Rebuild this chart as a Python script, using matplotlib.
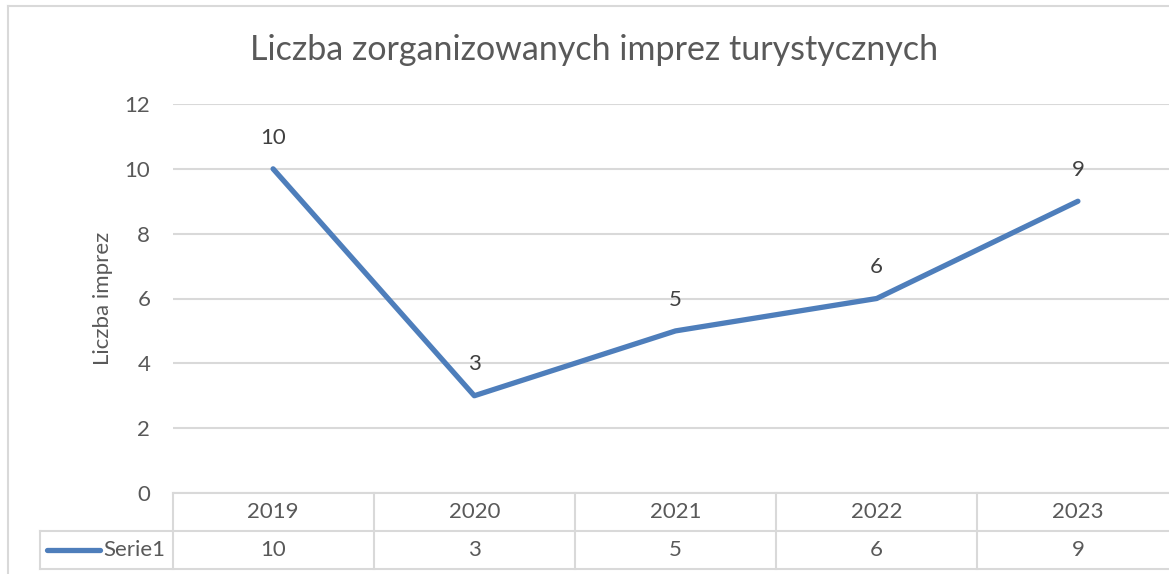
import matplotlib
matplotlib.use("Agg")
import matplotlib.pyplot as plt
from matplotlib.lines import Line2D
from matplotlib.transforms import blended_transform_factory

plt.rcParams['font.family'] = ['Lato', 'DejaVu Sans']

years = ['2019', '2020', '2021', '2022', '2023']
values = [10, 3, 5, 6, 9]
series_name = 'Serie1'
title = 'Liczba zorganizowanych imprez turystycznych'
ylabel = 'Liczba imprez'

W, H = 1169, 574
fig = plt.figure(figsize=(W / 100, H / 100), dpi=100)

line_col = '#4E7EBB'
grid_col = '#D9D9D9'
text_col = '#595959'
fs = 16

# plot area in pixels (right edge runs past the image, as in the screenshot)
left_px, right_px = 172.5, 1178.5
top_px, bot_px = 104, 493
ax = fig.add_axes([left_px / W, 1 - bot_px / H, (right_px - left_px) / W, (bot_px - top_px) / H])

x = list(range(len(years)))
ax.plot(x, values, color=line_col, lw=3.8, solid_capstyle='round', solid_joinstyle='round', zorder=3)
for xi, v in zip(x, values):
    ax.annotate(str(v), (xi, v), xytext=(0, 22.5), textcoords='offset points',
                ha='center', va='center', fontsize=fs, color='#404040')

ax.set_xlim(-0.5, len(years) - 0.5)
ax.set_ylim(0, 12)
ax.set_yticks(range(0, 13, 2))
ax.tick_params(axis='y', length=0, pad=16, labelsize=fs, labelcolor=text_col)
ax.set_xticks([])
for s in ax.spines.values():
    s.set_visible(False)
ax.grid(axis='y', color=grid_col, lw=1.5)
ax.set_axisbelow(True)
ax.set_ylabel(ylabel, fontsize=fs, color=text_col, labelpad=8)

fig.text(594 / W, 1 - 50 / H, title, ha='center', va='center', fontsize=24.5, color=text_col)

# data table below the plot area
row_h = 38
tr = blended_transform_factory(ax.transData, fig.transFigure)
def fy(py):
    return 1 - py / H

def hline(x0, x1, py):
    fig.add_artist(Line2D([x0, x1], [fy(py), fy(py)], transform=tr, color=grid_col, lw=1.5, clip_on=False))

def vline(xd, py0, py1):
    fig.add_artist(Line2D([xd, xd], [fy(py0), fy(py1)], transform=tr, color=grid_col, lw=1.5, clip_on=False))

xl, xr = -0.5, len(years) - 0.5
legend_left = -0.5 - (left_px - 40) / ((right_px - left_px) / len(years))
hline(xl, xr, bot_px)
hline(legend_left, xr, bot_px + row_h)
hline(legend_left, xr, bot_px + 2 * row_h)
for b in range(len(years) + 1):
    vline(b - 0.5, bot_px, bot_px + 2 * row_h)
vline(legend_left, bot_px + row_h, bot_px + 2 * row_h)

for xi, yr, v in zip(x, years, values):
    fig.text(xi, fy(bot_px + row_h / 2), yr, transform=tr, ha='center', va='center', fontsize=fs, color=text_col)
    fig.text(xi, fy(bot_px + 1.5 * row_h), str(v), transform=tr, ha='center', va='center', fontsize=fs, color=text_col)

fig.add_artist(Line2D([47 / W, 100 / W], [fy(bot_px + 1.5 * row_h)] * 2, transform=fig.transFigure,
                      color=line_col, lw=3.8, solid_capstyle='round'))
fig.text(103 / W, fy(bot_px + 1.5 * row_h), series_name, ha='left', va='center', fontsize=fs, color=text_col)

# chart frame
fig.add_artist(Line2D([8 / W, 8 / W], [fy(6), 0], transform=fig.transFigure, color=grid_col, lw=1.5))
fig.add_artist(Line2D([8 / W, 1], [fy(6), fy(6)], transform=fig.transFigure, color=grid_col, lw=1.5))

fig.savefig('out.png', dpi=100)
